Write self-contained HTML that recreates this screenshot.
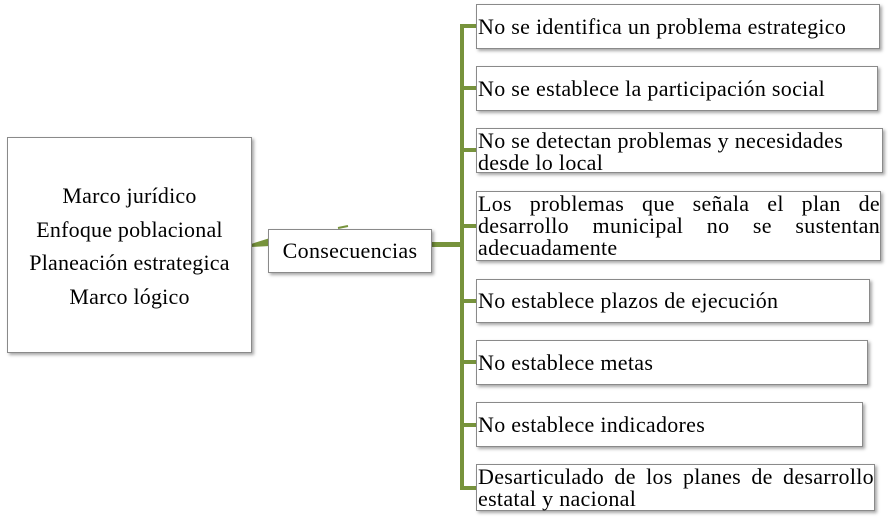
<!DOCTYPE html>
<html><head><meta charset="utf-8"><style>
body{margin:0;width:888px;height:521px;background:#fff;position:relative;overflow:hidden;font-family:"Liberation Serif",serif;color:#000}
.b{position:absolute;background:#fff;border:1px solid #8a8a8a;box-shadow:2px 2px 3px rgba(0,0,0,.35);box-sizing:border-box;font-size:22px;letter-spacing:0.3px;line-height:22px;white-space:nowrap}
.r{padding:1px 0 0 1px}
.j{text-align:justify;text-align-last:justify;white-space:normal}
.g{position:absolute;background:#77933c}
</style></head><body>
<div class="g" style="left:460px;top:24px;width:4px;height:466px"></div>
<div class="g" style="left:431px;top:242px;width:31px;height:5px"></div>
<div class="g" style="left:460px;top:24px;width:16px;height:4px"></div>
<div class="g" style="left:460px;top:86px;width:16px;height:4px"></div>
<div class="g" style="left:460px;top:148px;width:16px;height:4px"></div>
<div class="g" style="left:460px;top:224px;width:16px;height:4px"></div>
<div class="g" style="left:460px;top:299px;width:16px;height:4px"></div>
<div class="g" style="left:460px;top:360px;width:16px;height:4px"></div>
<div class="g" style="left:460px;top:423px;width:16px;height:4px"></div>
<div class="g" style="left:460px;top:486px;width:16px;height:4px"></div>
<svg style="position:absolute;left:0;top:0" width="888" height="521"><path d="M251 244 L270 238 L270 246 L251 247Z" fill="#77933c"/><path d="M338 228 L348 226" stroke="#77933c" stroke-width="2"/></svg>
<div class="b" style="left:7px;top:137px;width:245px;height:216px;text-align:center;padding-top:41px;line-height:33.5px;letter-spacing:0.2px">Marco jurídico<br>Enfoque poblacional<br>Planeación estrategica<br>Marco lógico</div>
<div class="b" style="left:268px;top:229px;width:164px;height:44px;text-align:center;line-height:42px">Consecuencias</div>
<div class="b r" style="left:476px;top:4px;width:404px;height:45px;padding-top:11px">No se identifica un problema estrategico</div>
<div class="b r" style="left:476px;top:66px;width:402px;height:45px;padding-top:11px">No se establece la participación social</div>
<div class="b r" style="left:476px;top:128px;width:407px;height:45px">No se detectan problemas y necesidades<br>desde lo local</div>
<div class="b r" style="left:476px;top:191px;width:405px;height:70px"><div class="j">Los problemas que señala el plan de</div><div class="j">desarrollo municipal no se sustentan</div><div>adecuadamente</div></div>
<div class="b r" style="left:476px;top:279px;width:394px;height:44px;padding-top:10px">No establece plazos de ejecución</div>
<div class="b r" style="left:476px;top:340px;width:392px;height:45px;padding-top:11px">No establece metas</div>
<div class="b r" style="left:476px;top:402px;width:387px;height:45px;padding-top:11px">No establece indicadores</div>
<div class="b r" style="left:476px;top:464px;width:399px;height:47px"><div class="j">Desarticulado de los planes de desarrollo</div><div>estatal y nacional</div></div>
</body></html>
